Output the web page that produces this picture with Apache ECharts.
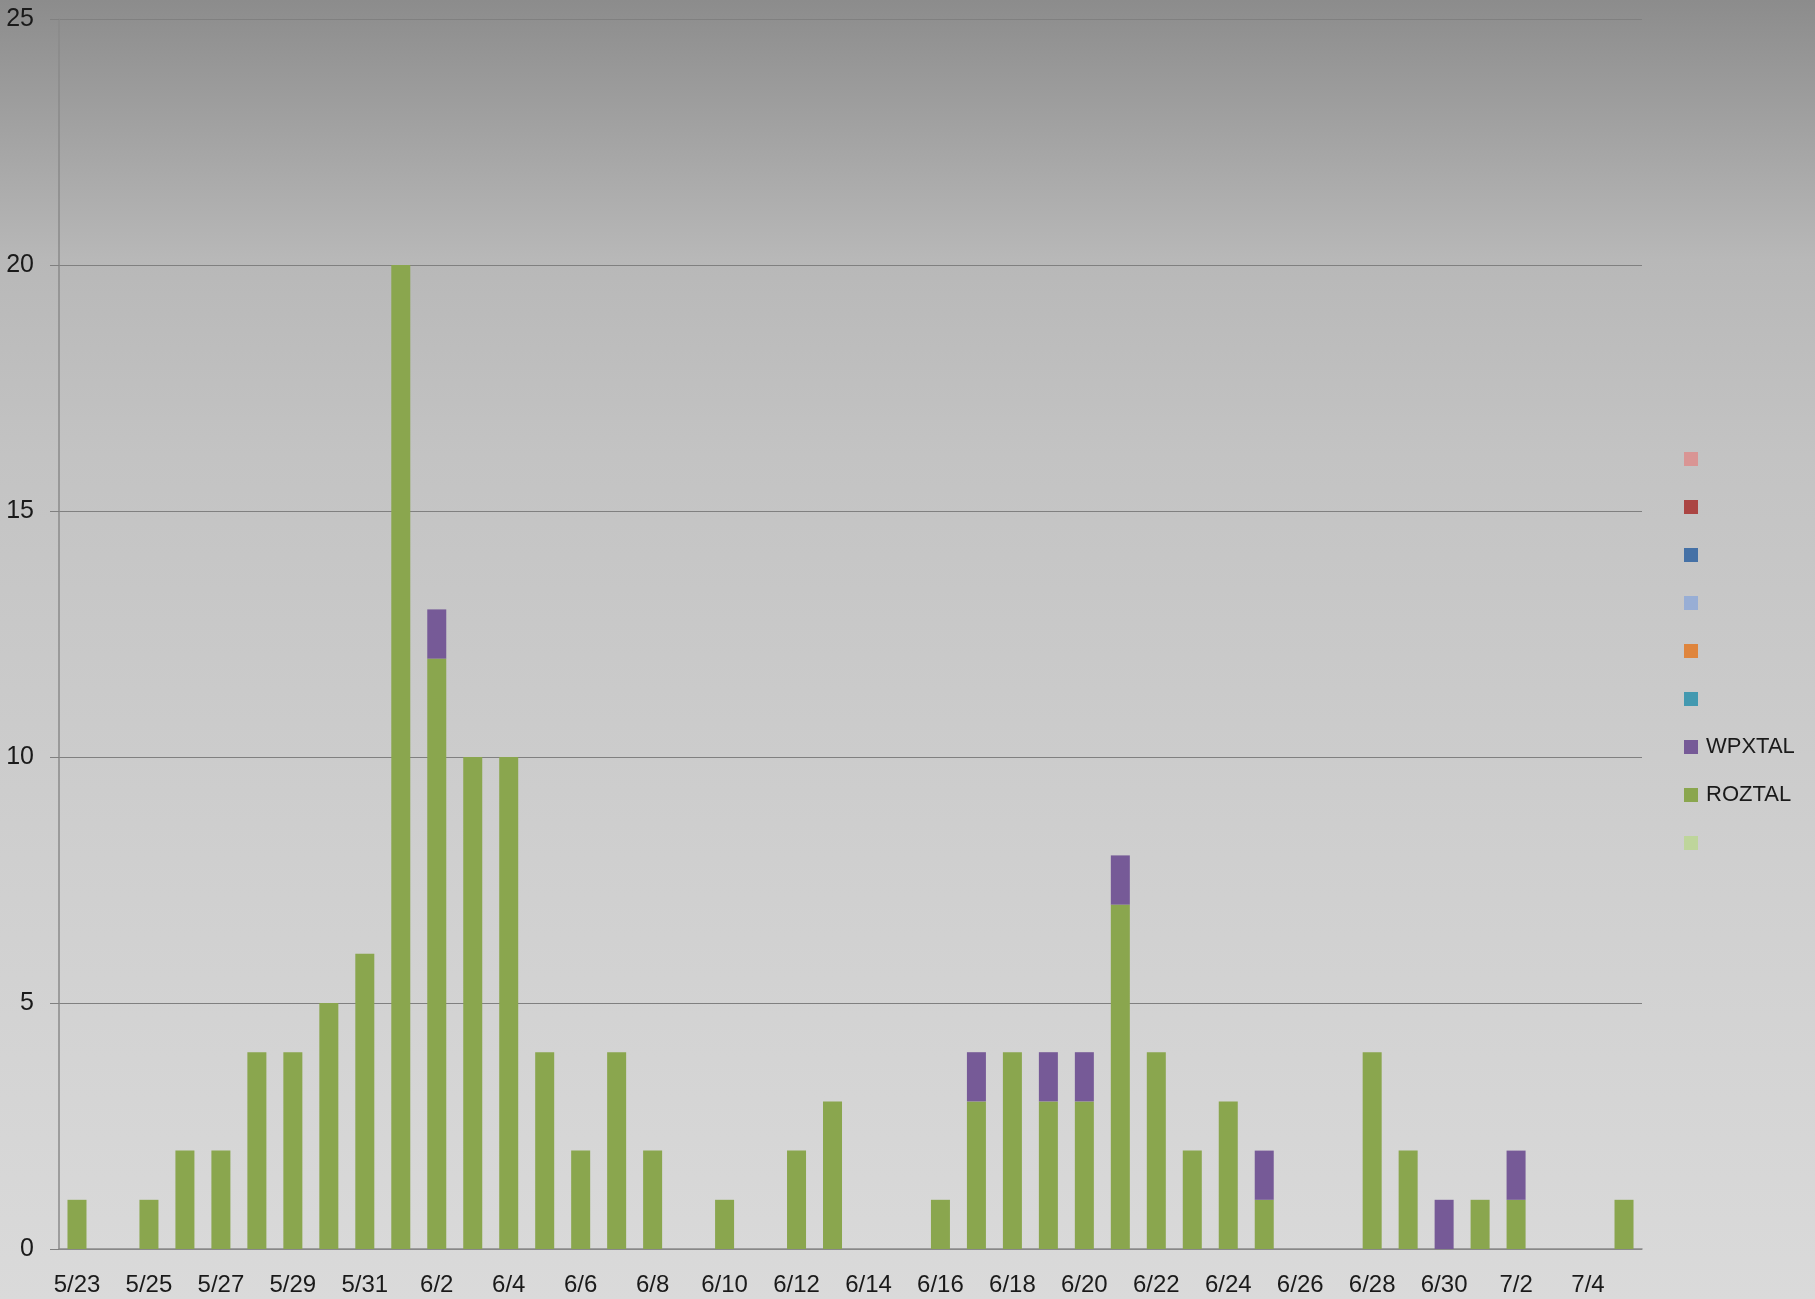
<!DOCTYPE html>
<html>
<head>
<meta charset="utf-8">
<script src="https://cdn.jsdelivr.net/npm/echarts@6/dist/echarts.min.js"></script>
<style>
  html, body { margin: 0; padding: 0; }
  #chart { width: 1815px; height: 1299px; }
</style>
</head>
<body>
<div id="chart"></div>
<script>
// dates on the category axis
var days = ["5/23","5/24","5/25","5/26","5/27","5/28","5/29","5/30","5/31",
  "6/1","6/2","6/3","6/4","6/5","6/6","6/7","6/8","6/9","6/10","6/11","6/12",
  "6/13","6/14","6/15","6/16","6/17","6/18","6/19","6/20","6/21","6/22","6/23",
  "6/24","6/25","6/26","6/27","6/28","6/29","6/30","7/1","7/2","7/3","7/4","7/5"];

// counts per day
var roztal = [1,0,1,2,2,4,4,5,6,20,12,10,10,4,2,4,2,0,1,0,2,3,0,0,1,3,4,3,3,7,4,2,3,1,0,0,4,2,0,1,1,0,0,1];
var wpxtal = [0,0,0,0,0,0,0,0,0,0,1,0,0,0,0,0,0,0,0,0,0,0,0,0,0,1,0,1,1,1,0,0,0,1,0,0,0,0,1,0,1,0,0,0];

// legend entries, top to bottom (empty names are series without data)
var legendNames = [" ", "  ", "   ", "    ", "     ", "      ", "WPXTAL", "ROZTAL", "       "];
var legendColors = ["#d99594", "#ab4543", "#4571a6", "#98aed5", "#df853d", "#4399b0", "#765a97", "#8aa64e", "#bed59b"];

var seriesData = { "WPXTAL": wpxtal, "ROZTAL": roztal };

var myChart = echarts.init(document.getElementById("chart"));

// stack order: ROZTAL at bottom, WPXTAL above it
var order = ["       ", "ROZTAL", "WPXTAL", "      ", "     ", "    ", "   ", "  ", " "];
var series = order.map(function (name) {
  var idx = legendNames.indexOf(name);
  return {
    name: name,
    type: "bar",
    stack: "total",
    barWidth: 19,
    itemStyle: { color: legendColors[idx] },
    data: seriesData[name] ? seriesData[name] : []
  };
});

myChart.setOption({
  backgroundColor: {
    type: "linear", x: 0, y: 0, x2: 0, y2: 1,
    colorStops: [
      { offset: 0, color: "#8c8c8c" },
      { offset: 0.2, color: "#b8b8b8" },
      { offset: 0.35, color: "#c3c3c3" },
      { offset: 0.66, color: "#cfcfcf" },
      { offset: 1, color: "#dadada" }
    ]
  },
  animation: false,
  grid: { left: 59, right: 173, top: 19, bottom: 50 },
  legend: {
    orient: "vertical",
    left: 1679,
    top: 440,
    itemWidth: 14,
    itemHeight: 14,
    itemGap: 20,
    icon: "rect",
    data: legendNames,
    selectedMode: false,
    textStyle: {
      fontFamily: "Liberation Sans, sans-serif",
      fontSize: 22,
      lineHeight: 28,
      color: "#1a1a1a",
      padding: [0, 0, 0, 3]
    }
  },
  xAxis: {
    type: "category",
    data: days,
    axisLine: { lineStyle: { color: "#8a8a8a", width: 1.5 } },
    axisTick: { interval: 1, length: 8, lineStyle: { color: "#8a8a8a", width: 1.5 } },
    axisLabel: {
      interval: 1,
      margin: 24,
      fontFamily: "Liberation Sans, sans-serif",
      fontSize: 24,
      color: "#1a1a1a"
    }
  },
  yAxis: {
    type: "value",
    min: 0,
    max: 25,
    interval: 5,
    axisLine: { show: true, lineStyle: { color: "#8a8a8a", width: 1.5 } },
    axisTick: { show: true, length: 9, lineStyle: { color: "#808080" } },
    splitLine: { lineStyle: { color: "#808080", width: 1.2 } },
    axisLabel: {
      margin: 25,
      fontFamily: "Liberation Sans, sans-serif",
      fontSize: 25,
      color: "#1a1a1a"
    }
  },
  series: series
});
</script>
</body>
</html>
